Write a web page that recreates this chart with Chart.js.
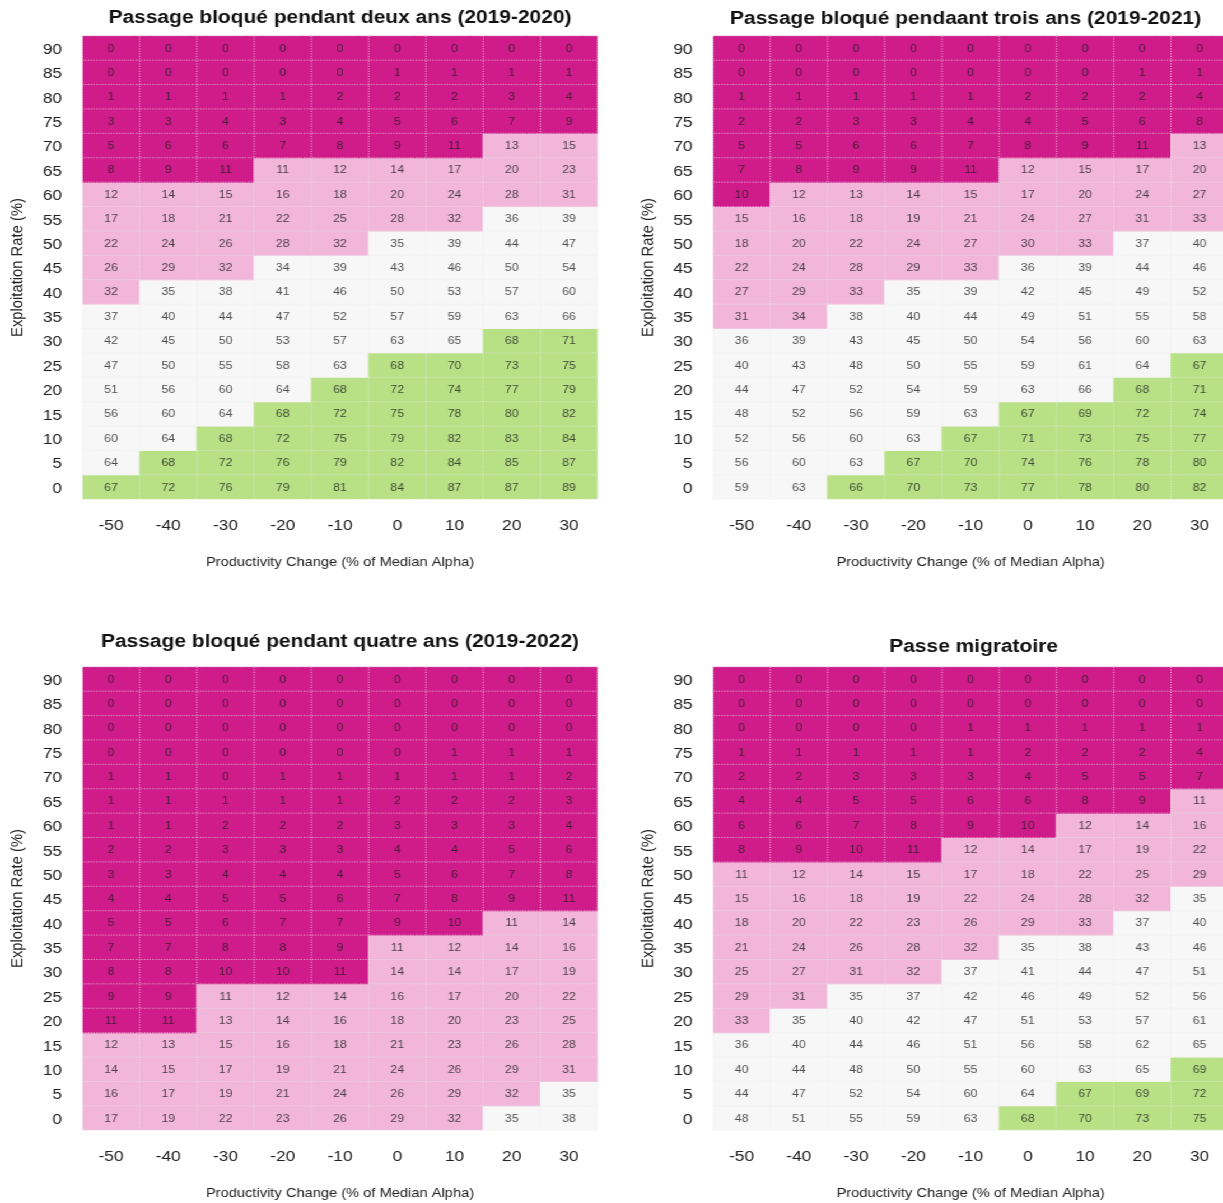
<!DOCTYPE html>
<html>
<head>
<meta charset="utf-8">
<script src="https://cdn.jsdelivr.net/npm/chart.js@4.4.1/dist/chart.umd.min.js"></script>
<style>
  html, body { margin: 0; padding: 0; background: #fff; overflow: hidden; width: 1223px; height: 1203px; }
  #sheet { position: absolute; left: 0; top: 0; width: 1092px; height: 1203px; transform: scaleX(1.12); transform-origin: 0 0; }
  #sheet canvas { position: absolute; }
</style>
</head>
<body>
<div id="sheet">
  <canvas id="c1" width="547" height="600" style="left:0px;top:0px;width:547px;height:600px"></canvas>
  <canvas id="c2" width="547" height="600" style="left:562.5px;top:0px;width:547px;height:600px"></canvas>
  <canvas id="c3" width="547" height="600" style="left:0px;top:631px;width:547px;height:600px"></canvas>
  <canvas id="c4" width="547" height="600" style="left:562.5px;top:631px;width:547px;height:600px"></canvas>
</div>
<script>
// Productivity change (% of median alpha) and exploitation rate (%) categories
const changes = ['-50', '-40', '-30', '-20', '-10', '0', '10', '20', '30'];
const rates = [90, 85, 80, 75, 70, 65, 60, 55, 50, 45, 40, 35, 30, 25, 20, 15, 10, 5, 0];
const rateStep = 5;

// Probability (%) per cell, rows follow `rates`, columns follow `changes`
const valuesDeux = [
  [0, 0, 0, 0, 0, 0, 0, 0, 0],
  [0, 0, 0, 0, 0, 1, 1, 1, 1],
  [1, 1, 1, 1, 2, 2, 2, 3, 4],
  [3, 3, 4, 3, 4, 5, 6, 7, 9],
  [5, 6, 6, 7, 8, 9, 11, 13, 15],
  [8, 9, 11, 11, 12, 14, 17, 20, 23],
  [12, 14, 15, 16, 18, 20, 24, 28, 31],
  [17, 18, 21, 22, 25, 28, 32, 36, 39],
  [22, 24, 26, 28, 32, 35, 39, 44, 47],
  [26, 29, 32, 34, 39, 43, 46, 50, 54],
  [32, 35, 38, 41, 46, 50, 53, 57, 60],
  [37, 40, 44, 47, 52, 57, 59, 63, 66],
  [42, 45, 50, 53, 57, 63, 65, 68, 71],
  [47, 50, 55, 58, 63, 68, 70, 73, 75],
  [51, 56, 60, 64, 68, 72, 74, 77, 79],
  [56, 60, 64, 68, 72, 75, 78, 80, 82],
  [60, 64, 68, 72, 75, 79, 82, 83, 84],
  [64, 68, 72, 76, 79, 82, 84, 85, 87],
  [67, 72, 76, 79, 81, 84, 87, 87, 89]
];
const valuesTrois = [
  [0, 0, 0, 0, 0, 0, 0, 0, 0],
  [0, 0, 0, 0, 0, 0, 0, 1, 1],
  [1, 1, 1, 1, 1, 2, 2, 2, 4],
  [2, 2, 3, 3, 4, 4, 5, 6, 8],
  [5, 5, 6, 6, 7, 8, 9, 11, 13],
  [7, 8, 9, 9, 11, 12, 15, 17, 20],
  [10, 12, 13, 14, 15, 17, 20, 24, 27],
  [15, 16, 18, 19, 21, 24, 27, 31, 33],
  [18, 20, 22, 24, 27, 30, 33, 37, 40],
  [22, 24, 28, 29, 33, 36, 39, 44, 46],
  [27, 29, 33, 35, 39, 42, 45, 49, 52],
  [31, 34, 38, 40, 44, 49, 51, 55, 58],
  [36, 39, 43, 45, 50, 54, 56, 60, 63],
  [40, 43, 48, 50, 55, 59, 61, 64, 67],
  [44, 47, 52, 54, 59, 63, 66, 68, 71],
  [48, 52, 56, 59, 63, 67, 69, 72, 74],
  [52, 56, 60, 63, 67, 71, 73, 75, 77],
  [56, 60, 63, 67, 70, 74, 76, 78, 80],
  [59, 63, 66, 70, 73, 77, 78, 80, 82]
];
const valuesQuatre = [
  [0, 0, 0, 0, 0, 0, 0, 0, 0],
  [0, 0, 0, 0, 0, 0, 0, 0, 0],
  [0, 0, 0, 0, 0, 0, 0, 0, 0],
  [0, 0, 0, 0, 0, 0, 1, 1, 1],
  [1, 1, 0, 1, 1, 1, 1, 1, 2],
  [1, 1, 1, 1, 1, 2, 2, 2, 3],
  [1, 1, 2, 2, 2, 3, 3, 3, 4],
  [2, 2, 3, 3, 3, 4, 4, 5, 6],
  [3, 3, 4, 4, 4, 5, 6, 7, 8],
  [4, 4, 5, 5, 6, 7, 8, 9, 11],
  [5, 5, 6, 7, 7, 9, 10, 11, 14],
  [7, 7, 8, 8, 9, 11, 12, 14, 16],
  [8, 8, 10, 10, 11, 14, 14, 17, 19],
  [9, 9, 11, 12, 14, 16, 17, 20, 22],
  [11, 11, 13, 14, 16, 18, 20, 23, 25],
  [12, 13, 15, 16, 18, 21, 23, 26, 28],
  [14, 15, 17, 19, 21, 24, 26, 29, 31],
  [16, 17, 19, 21, 24, 26, 29, 32, 35],
  [17, 19, 22, 23, 26, 29, 32, 35, 38]
];
const valuesPasse = [
  [0, 0, 0, 0, 0, 0, 0, 0, 0],
  [0, 0, 0, 0, 0, 0, 0, 0, 0],
  [0, 0, 0, 0, 1, 1, 1, 1, 1],
  [1, 1, 1, 1, 1, 2, 2, 2, 4],
  [2, 2, 3, 3, 3, 4, 5, 5, 7],
  [4, 4, 5, 5, 6, 6, 8, 9, 11],
  [6, 6, 7, 8, 9, 10, 12, 14, 16],
  [8, 9, 10, 11, 12, 14, 17, 19, 22],
  [11, 12, 14, 15, 17, 18, 22, 25, 29],
  [15, 16, 18, 19, 22, 24, 28, 32, 35],
  [18, 20, 22, 23, 26, 29, 33, 37, 40],
  [21, 24, 26, 28, 32, 35, 38, 43, 46],
  [25, 27, 31, 32, 37, 41, 44, 47, 51],
  [29, 31, 35, 37, 42, 46, 49, 52, 56],
  [33, 35, 40, 42, 47, 51, 53, 57, 61],
  [36, 40, 44, 46, 51, 56, 58, 62, 65],
  [40, 44, 48, 50, 55, 60, 63, 65, 69],
  [44, 47, 52, 54, 60, 64, 67, 69, 72],
  [48, 51, 55, 59, 63, 68, 70, 73, 75]
];

// Probability class of each cell (D = lowest, P, W, G = highest)
const bandsDeux = [
  'DDDDDDDDD', 'DDDDDDDDD', 'DDDDDDDDD', 'DDDDDDDDD', 'DDDDDDDPP',
  'DDDPPPPPP', 'PPPPPPPPP', 'PPPPPPPWW', 'PPPPPWWWW', 'PPPWWWWWW',
  'PWWWWWWWW', 'WWWWWWWWW', 'WWWWWWWGG', 'WWWWWGGGG', 'WWWWGGGGG',
  'WWWGGGGGG', 'WWGGGGGGG', 'WGGGGGGGG', 'GGGGGGGGG'
];
const bandsTrois = [
  'DDDDDDDDD', 'DDDDDDDDD', 'DDDDDDDDD', 'DDDDDDDDD', 'DDDDDDDDP',
  'DDDDDPPPP', 'DPPPPPPPP', 'PPPPPPPPP', 'PPPPPPPWW', 'PPPPPWWWW',
  'PPPWWWWWW', 'PPWWWWWWW', 'WWWWWWWWW', 'WWWWWWWWG', 'WWWWWWWGG',
  'WWWWWGGGG', 'WWWWGGGGG', 'WWWGGGGGG', 'WWGGGGGGG'
];
const bandsQuatre = [
  'DDDDDDDDD', 'DDDDDDDDD', 'DDDDDDDDD', 'DDDDDDDDD', 'DDDDDDDDD',
  'DDDDDDDDD', 'DDDDDDDDD', 'DDDDDDDDD', 'DDDDDDDDD', 'DDDDDDDDD',
  'DDDDDDDPP', 'DDDDDPPPP', 'DDDDDPPPP', 'DDPPPPPPP', 'DDPPPPPPP',
  'PPPPPPPPP', 'PPPPPPPPP', 'PPPPPPPPW', 'PPPPPPPWW'
];
const bandsPasse = [
  'DDDDDDDDD', 'DDDDDDDDD', 'DDDDDDDDD', 'DDDDDDDDD', 'DDDDDDDDD',
  'DDDDDDDDP', 'DDDDDDPPP', 'DDDDPPPPP', 'PPPPPPPPP', 'PPPPPPPPW',
  'PPPPPPPWW', 'PPPPPWWWW', 'PPPPWWWWW', 'PPWWWWWWW', 'PWWWWWWWW',
  'WWWWWWWWW', 'WWWWWWWWG', 'WWWWWWGGG', 'WWWWWGGGG'
];

const bandColors = { D: '#d01c8b', P: '#f1b6da', W: '#f7f7f7', G: '#b8e186' };
const fontFamily = '"Liberation Sans", Arial, Helvetica, sans-serif';

// Panel title, centred over the plotting area
const panelTitle = {
  id: 'panelTitle',
  afterDraw(chart, args, opts) {
    const { ctx, chartArea } = chart;
    ctx.save();
    ctx.font = 'bold 18.7px ' + fontFamily;
    ctx.fillStyle = '#111';
    ctx.textAlign = 'center';
    ctx.textBaseline = 'alphabetic';
    ctx.fillText(opts.text, (chartArea.left + chartArea.right) / 2 + (opts.dx || 0), opts.baseline);
    ctx.restore();
  }
};

// Dotted tile borders and the value printed in every tile
const tileOverlay = {
  id: 'tileOverlay',
  afterDatasetsDraw(chart) {
    const { ctx, chartArea: a } = chart;
    const cols = changes.length, rows = rates.length;
    const cw = (a.right - a.left) / cols, rh = (a.bottom - a.top) / rows;
    ctx.save();
    ctx.strokeStyle = 'rgba(236,236,236,0.65)';
    ctx.lineWidth = 1;
    ctx.setLineDash([1.2, 1.3]);
    ctx.beginPath();
    for (let k = 0; k <= cols; k++) {
      const x = a.left + k * cw;
      ctx.moveTo(x, a.top); ctx.lineTo(x, a.bottom);
    }
    for (let k = 0; k <= rows; k++) {
      const y = a.top + k * rh;
      ctx.moveTo(a.left, y); ctx.lineTo(a.right, y);
    }
    ctx.stroke();
    ctx.setLineDash([]);
    ctx.font = '11px ' + fontFamily;
    ctx.fillStyle = 'rgba(30,30,30,0.78)';
    ctx.textAlign = 'center';
    ctx.textBaseline = 'middle';
    chart.data.datasets.forEach((ds, di) => {
      chart.getDatasetMeta(di).data.forEach((el, j) => {
        const cell = ds.data[j];
        ctx.fillText(String(cell.v), el.x, (el.y + el.base) / 2 + 0.5);
      });
    });
    ctx.restore();
  }
};

function buildPanel(canvasId, title, titleBaseline, titleDx, values, bands) {
  const half = rateStep / 2;
  const datasets = rates.map((r, i) => ({
    data: changes.map((c, j) => ({ x: c, y: [r - half, r + half], v: values[i][j], band: bands[i][j] })),
    backgroundColor: (ctx) => bandColors[ctx.raw.band],
    borderWidth: 0,
    inflateAmount: 0.5,
    grouped: false,
    barPercentage: 1,
    categoryPercentage: 1
  }));
  return new Chart(document.getElementById(canvasId), {
    type: 'bar',
    data: { labels: changes, datasets },
    plugins: [panelTitle, tileOverlay],
    options: {
      responsive: false,
      animation: false,
      events: [],
      layout: { padding: { top: 35.8, right: 13.4, bottom: 0, left: 0 } },
      plugins: {
        legend: { display: false },
        tooltip: { enabled: false },
        panelTitle: { text: title, baseline: titleBaseline, dx: titleDx }
      },
      scales: {
        x: {
          type: 'category',
          offset: true,
          grid: { display: false, drawTicks: false },
          border: { display: false },
          ticks: { font: { family: fontFamily, size: 15.5 }, color: '#222', padding: 17.5, maxRotation: 0, autoSkip: false },
          title: {
            display: true,
            text: 'Productivity Change (% of Median Alpha)',
            font: { family: fontFamily, size: 13.1 },
            color: '#222',
            padding: { top: 0, bottom: 29.4 }
          },
          afterFit(s) { s.height = 100.8; s.paddingLeft = 0; s.paddingRight = 0; }
        },
        y: {
          type: 'linear',
          min: Math.min(...rates) - half,
          max: Math.max(...rates) + half,
          grid: { display: false, drawTicks: false },
          border: { display: false },
          afterBuildTicks(s) { s.ticks = rates.map(v => ({ value: v })); },
          ticks: { font: { family: fontFamily, size: 15.5 }, color: '#222', padding: 18.2, labelOffset: 1.5 },
          title: {
            display: true,
            text: 'Exploitation Rate (%)',
            font: { family: fontFamily, size: 14.8 },
            color: '#222',
            padding: { top: 7.5, bottom: 0 }
          },
          afterFit(s) { s.width = 73.6; s.paddingTop = 0; s.paddingBottom = 0; }
        }
      }
    }
  });
}

buildPanel('c1', 'Passage bloqué pendant deux ans (2019-2020)', 23.3, 0, valuesDeux, bandsDeux);
buildPanel('c2', 'Passage bloqué pendaant trois ans (2019-2021)', 24, -4.5, valuesTrois, bandsTrois);
buildPanel('c3', 'Passage bloqué pendant quatre ans (2019-2022)', 15.7, 0, valuesQuatre, bandsQuatre);
buildPanel('c4', 'Passe migratoire', 20.7, 2.7, valuesPasse, bandsPasse);
</script>
</body>
</html>
